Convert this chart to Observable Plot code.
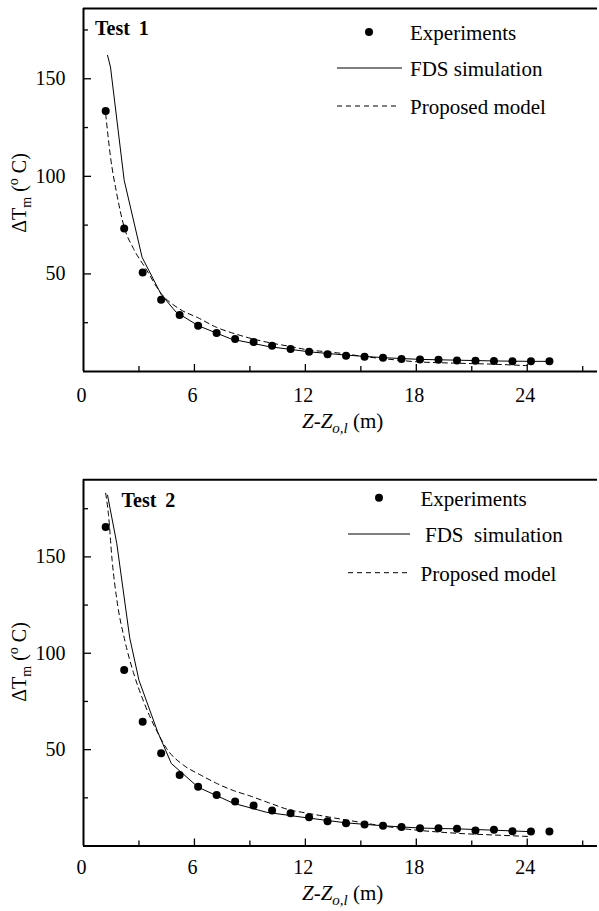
<!DOCTYPE html>
<html><head><meta charset="utf-8">
<script src="https://cdn.jsdelivr.net/npm/d3@7"></script>
<script src="https://cdn.jsdelivr.net/npm/@observablehq/plot@0.6"></script>
<style>
body{margin:0;background:#fff;}
svg{display:block;}
</style></head><body><div id="c"></div>
<script>
// Experimental measurement heights (m)
const expX = [1.2,2.2,3.2,4.2,5.2,6.2,7.2,8.2,9.2,10.2,11.2,12.2,13.2,14.2,15.2,16.2,17.2,18.2,19.2,20.2,21.2,22.2,23.2,24.2,25.2];

// Test 1
const t1Exp = [133.5,73.3,50.7,36.8,28.9,23.4,19.7,16.6,15.1,13.2,11.5,10.1,8.8,8.1,7.6,7.1,6.4,6.2,6.0,5.7,5.5,5.4,5.2,5.2,5.2];
const t1FdsX = [1.3,1.46,2.2,3.17,4.2,5.0,6.2,8.0,10.0,12.2,14.2,16.2,18.2,20.2,22.2,24.2,25.2];
const t1FdsY = [162,156,98,58.5,39.5,30.5,23.5,16.6,12.8,10.1,8.4,7.1,6.2,5.8,5.4,5.2,5.2];
const t1ModX = [1.2,1.46,1.8,2.2,2.7,3.35,4.2,5.2,6.2,7.2,8.2,9.2,10.2,11.2,12.2,13.2,14.2,15.2,16.2,18.0,20.0,22.0,24.0];
const t1ModY = [132,110,91,74,63,53,40,32,27.5,22.6,19.3,16.6,14.5,12.8,11.0,10.1,9.0,7.6,6.6,5.0,4.3,3.8,3.0];

// Test 2
const t2Exp = [165.5,91.3,64.5,48.1,36.9,30.8,26.5,23.1,21.0,18.4,17.0,14.9,12.9,11.8,11.1,10.5,9.8,9.2,9.2,8.9,8.0,8.4,7.7,7.5,7.5];
const t2FdsX = [1.3,1.8,2.5,3.0,4.0,4.75,6.2,8.1,9.9,12.1,14.2,16.2,18.2,20.2,22.2,24.3];
const t2FdsY = [182,157,108,86,59.5,42.8,30.5,22.2,17.5,14.6,12.0,10.5,9.3,8.9,8.2,7.4];
const t2ModX = [1.2,1.35,1.55,1.8,2.25,2.7,3.25,4.0,4.5,5.4,6.3,7.2,8.1,9.0,10.0,11.2,12.0,14.4,17.1,20.2,22.2,24.2];
const t2ModY = [183,172,148,128,106,90,75,59,50.5,42,37,32.5,28.8,26,22.5,18.6,17.2,13.2,9.2,6.6,5.7,4.9];

// Axis ticks
const xMajor = [0,6,12,18,24];
const xMinor = [3,9,15,21,27];
const yMajor = [50,100,150];
const yMinor = [25,75,125,175];
const xMax = 27.8;

const legendLabels = ["Experiments","FDS simulation","Proposed model"];

const FONT = "Liberation Serif, Times New Roman, serif";

function zip(xs, ys){ return xs.map((x,i)=>({x, y: ys[i]})); }

function chart(cfg){
  const exp = zip(expX, cfg.exp);
  const fds = zip(cfg.fdsX, cfg.fdsY);
  const mod = zip(cfg.modX, cfg.modY);
  const svgEl = Plot.plot({
    width: 599, height: cfg.height,
    marginLeft: 83, marginRight: 2, marginTop: cfg.mt, marginBottom: cfg.mb,
    style: {fontFamily: FONT, fontSize: "20px", color: "black", background: "white", overflow: "visible"},
    x: {domain: [0, xMax]},
    y: {domain: [0, cfg.yMax]},
    marks: [
      Plot.axisX({ticks: xMajor, tickSize: 0, tickPadding: cfg.xPad, label: null, tickFormat: d => String(d), dx: -2}),
      Plot.axisX({ticks: xMajor.slice(1), tickSize: -7, tickFormat: () => "", label: null, strokeWidth: 1.3}),
      Plot.axisX({ticks: xMinor, tickSize: -5, tickFormat: () => "", label: null, strokeWidth: 1.3}),
      Plot.axisY({ticks: yMajor, tickSize: 0, tickPadding: 18, label: null, tickFormat: d => String(d)}),
      Plot.axisY({ticks: yMajor, tickSize: -8, tickFormat: () => "", label: null, strokeWidth: 1.3}),
      Plot.axisY({ticks: yMinor, tickSize: -5, tickFormat: () => "", label: null, strokeWidth: 1.3}),
      Plot.ruleX([0], {stroke: "black", strokeWidth: 2}),
      Plot.ruleY([0], {stroke: "black", strokeWidth: 2}),
      Plot.ruleY([cfg.yMax], {stroke: "black", strokeWidth: 2}),
      Plot.line(fds, {x: "x", y: "y", stroke: "black", strokeWidth: 1}),
      Plot.line(mod, {x: "x", y: "y", stroke: "black", strokeWidth: 1, strokeDasharray: "5,4", curve: "monotone-x"}),
      Plot.dot(exp, {x: "x", y: "y", r: 4, fill: "black"})
    ]
  });
  const svg = d3.select(svgEl);
  // Panel title
  svg.append("text").attr("x", cfg.title.x).attr("y", cfg.title.y)
    .attr("text-anchor", "start")
    .attr("font-family", FONT).attr("font-size", 20).attr("font-weight", "bold")
    .attr("fill", "black").attr("word-spacing", 4).text(cfg.title.text);
  // Legend
  const L = cfg.legend;
  svg.append("circle").attr("cx", L.dotX).attr("cy", L.y[0]).attr("r", 4).attr("fill", "black");
  svg.append("line").attr("x1", L.lx1).attr("x2", L.lx2).attr("y1", L.y[1]).attr("y2", L.y[1])
    .attr("stroke", "black").attr("stroke-width", 1.2);
  svg.append("line").attr("x1", L.lx1).attr("x2", L.lx2 - 3).attr("y1", L.y[2]).attr("y2", L.y[2])
    .attr("stroke", "black").attr("stroke-width", 1).attr("stroke-dasharray", "5,4");
  legendLabels.forEach((t, i) => {
    svg.append("text").attr("x", L.tx[i]).attr("y", L.y[i] + 8)
      .attr("text-anchor", "start")
      .attr("font-family", FONT).attr("font-size", 21).attr("fill", "black")
      .attr("xml:space", "preserve").style("white-space", "pre")
      .text(i === 1 ? cfg.fdsText : t);
  });
  // X axis title
  const xt = svg.append("text").attr("x", 302).attr("y", cfg.xTitleY)
    .attr("text-anchor", "start")
    .attr("font-family", FONT).attr("font-size", 21).attr("fill", "black");
  xt.append("tspan").attr("font-style", "italic").text("Z-Z");
  xt.append("tspan").attr("font-style", "italic").attr("font-size", 15).attr("dy", 5).text("o,l");
  xt.append("tspan").attr("dy", -5).text(" (m)");
  // Y axis title
  const yt = svg.append("text")
    .attr("transform", `translate(26,${cfg.yTitleC}) rotate(-90)`)
    .attr("text-anchor", "middle")
    .attr("font-family", FONT).attr("font-size", 20).attr("fill", "black");
  yt.append("tspan").text("\u0394T");
  yt.append("tspan").attr("font-size", 14).attr("dy", 5).text("m");
  yt.append("tspan").attr("dy", -5).text(" (");
  yt.append("tspan").attr("font-size", 14).attr("dy", -8).text("o");
  yt.append("tspan").attr("dy", 8).text(" C)");
  return svgEl;
}

const c = document.getElementById("c");
c.appendChild(chart({
  height: 450, mt: 8, mb: 79, yMax: 186, xPad: 16,
  exp: t1Exp, fdsX: t1FdsX, fdsY: t1FdsY, modX: t1ModX, modY: t1ModY,
  title: {text: "Test 1", x: 95, y: 35},
  legend: {dotX: 369, lx1: 337, lx2: 402, tx: [410, 410, 410], y: [32, 68, 106]},
  fdsText: "FDS simulation",
  xTitleY: 428, yTitleC: 193
}));
c.appendChild(chart({
  height: 461, mt: 29.3, mb: 65.5, yMax: 190, xPad: 14,
  exp: t2Exp, fdsX: t2FdsX, fdsY: t2FdsY, modX: t2ModX, modY: t2ModY,
  title: {text: "Test 2", x: 121.5, y: 56.5},
  legend: {dotX: 379, lx1: 348, lx2: 410, tx: [420.5, 425, 420.5], y: [47.7, 84, 122.7]},
  fdsText: "FDS  simulation",
  xTitleY: 450, yTitleC: 212
}));
</script></body></html>
